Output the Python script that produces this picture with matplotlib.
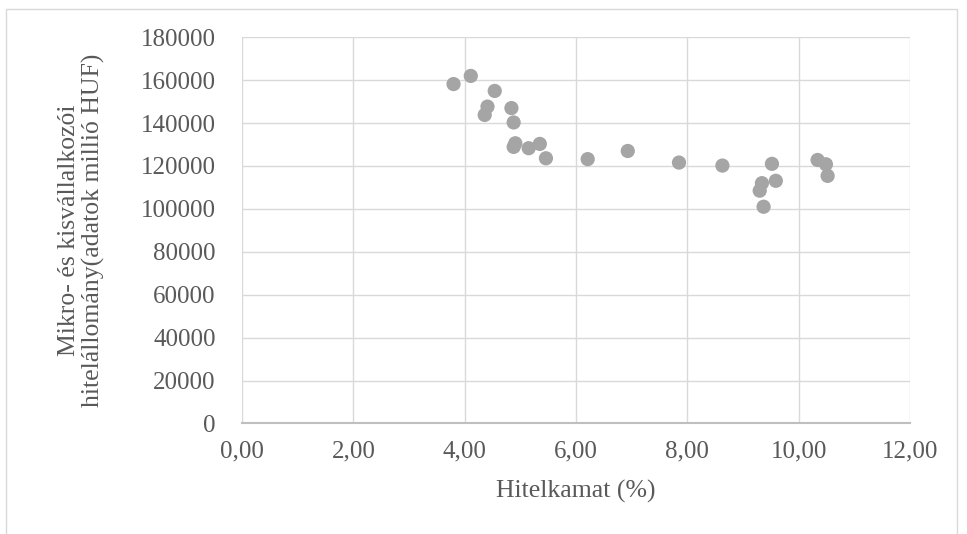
import matplotlib
matplotlib.use("Agg")
import matplotlib.pyplot as plt
from matplotlib.patches import Rectangle

# Data
hitelkamat = [3.80, 4.11, 4.54, 4.41, 4.36, 4.84, 4.88, 4.91, 4.88, 5.15, 5.35, 5.46,
              6.21, 6.93, 7.85, 8.63, 9.52, 9.59, 9.34, 9.30, 9.37, 10.34, 10.49, 10.52]
hitelallomany = [158200, 162000, 155000, 147700, 143800, 147000, 140300, 130600, 128900,
                 128300, 130300, 123600, 123200, 127000, 121600, 120200, 121000, 113100,
                 112000, 108500, 101000, 122800, 120800, 115400]
x_ticks = [0, 2, 4, 6, 8, 10, 12]
x_tick_labels = ["0,00", "2,00", "4,00", "6,00", "8,00", "10,00", "12,00"]
y_ticks = [0, 20000, 40000, 60000, 80000, 100000, 120000, 140000, 160000, 180000]

plt.rcParams['font.family'] = ['Liberation Serif', 'DejaVu Serif']

W, H = 967, 534
fig = plt.figure(figsize=(W / 100, H / 100), dpi=100)
fig.patch.set_facecolor('white')
fig.patches.append(Rectangle((6 / W, -0.05), (957 - 6) / W, 1.05 - 9 / H,
                             transform=fig.transFigure, fill=False,
                             edgecolor='#D9D9D9', linewidth=1.0))

ax_left, ax_right, ax_top, ax_bottom = 242, 910, 37.3, 423.4
ax = fig.add_axes([ax_left / W, (H - ax_bottom) / H, (ax_right - ax_left) / W,
                   (ax_bottom - ax_top) / H])
ax.scatter(hitelkamat, hitelallomany, s=105, color='#A5A5A5', edgecolors='none', zorder=3)

ax.set_xlim(0, 12)
ax.set_ylim(0, 180000)
ax.set_xticks(x_ticks)
ax.set_xticklabels(x_tick_labels)
ax.set_yticks(y_ticks)
ax.set_yticklabels([str(v) for v in y_ticks])

ax.grid(True, color='#D9D9D9', linewidth=1.0, zorder=0)
for s in ['top', 'right', 'left']:
    ax.spines[s].set_visible(False)
ax.spines['bottom'].set_color('#BFBFBF')
ax.spines['bottom'].set_linewidth(1.5)
ax.spines['bottom'].set_zorder(2)

ax.tick_params(axis='both', length=0, labelsize=18, colors='#595959')
ax.tick_params(axis='x', pad=12)
ax.tick_params(axis='y', pad=19)

ax.set_xlabel("Hitelkamat (%)", fontsize=18.5, color='#595959')
ax.set_ylabel("Mikro- és kisvállalkozói\nhitelállomány(adatok millió HUF)", fontsize=18.5,
              color='#595959', linespacing=1.12)
ax_w = ax_right - ax_left
ax_h = ax_bottom - ax_top
ax.xaxis.set_label_coords(0.5, (ax_bottom - 480) / ax_h)
ax.yaxis.set_label_coords((105 - ax_left) / ax_w, 0.5)

fig.savefig("out.png", dpi=100)
